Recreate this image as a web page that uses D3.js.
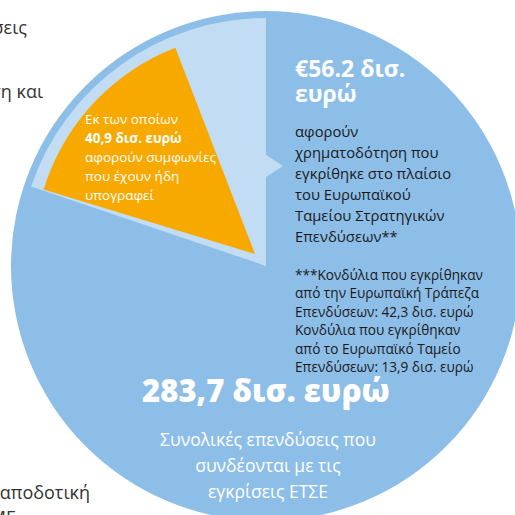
<!DOCTYPE html>
<html>
<head>
<meta charset="utf-8">
<script src="https://cdn.jsdelivr.net/npm/d3@7"></script>
<style>
  html, body { margin: 0; padding: 0; background: #fff; }
  svg { display: block; }
  text { font-family: "Open Sans", "Noto Sans", sans-serif; }
</style>
</head>
<body>
<svg id="chart" width="515" height="515"></svg>
<script>
// ---- data ----
var totalAmount = 283.7;     // total investment linked to EFSI approvals
var efsiAmount = 56.2;       // EFSI financing approved
var signedAmount = 40.9;     // of which already signed

var orangeLines = ["Εκ των οποίων", "40,9 δισ. ευρώ", "αφορούν συμφωνίες", "που έχουν ήδη", "υπογραφεί"];
var efsiTitle = ["€56.2 δισ.", "ευρώ"];
var efsiLines = ["αφορούν", "χρηματοδότηση που", "εγκρίθηκε στο πλαίσιο", "του Ευρωπαϊκού", "Ταμείου Στρατηγικών", "Επενδύσεων**"];
var noteLines = ["***Κονδύλια που εγκρίθηκαν", "από την Ευρωπαϊκή Τράπεζα", "Επενδύσεων: 42,3 δισ. ευρώ", "Κονδύλια που εγκρίθηκαν", "από το Ευρωπαϊκό Ταμείο", "Επενδύσεων: 13,9 δισ. ευρώ"];
var totalTitle = "283,7 δισ. ευρώ";
var totalLines = ["Συνολικές επενδύσεις που", "συνδέονται με τις", "εγκρίσεις ΕΤΣΕ"];
// cut-off text on the left of the page
var sideLines = [
    {text: "επενδύσεις", y: 34, x: 27},
    {text: "χρηματοδότηση και", y: 98, x: 43},
    {text: "αποδοτική", y: 499, x: 90},
    {text: "ΜΜΕ", y: 524, x: 16}
];

// ---- layout ----
var svg = d3.select("#chart");
var cx = 266, cy = 266;
var R = 255, rLight = 248, rOrange = 221;
var BLUE = "#8dbee8", LIGHT = "#c1dcf3", ORANGE = "#f7a900";

var angle = d3.scaleLinear().domain([0, totalAmount]).range([0, 2 * Math.PI]);

var g = svg.append("g").attr("transform", "translate(" + cx + "," + cy + ")");

// full circle
g.append("path")
    .attr("d", d3.arc()({innerRadius: 0, outerRadius: R, startAngle: 0, endAngle: 2 * Math.PI}))
    .attr("fill", BLUE);

// EFSI wedge
var lightStart = -angle(efsiAmount);
g.append("path")
    .attr("d", d3.arc()({innerRadius: 0, outerRadius: rLight, startAngle: lightStart, endAngle: 0}))
    .attr("fill", LIGHT);

// little pointer towards the EFSI text
g.append("path")
    .attr("d", "M0,-111 L17,-100 L0,-89 Z")
    .attr("fill", LIGHT);

// signed wedge, inset inside the EFSI wedge
var orangeStart = lightStart - 0.03;
g.append("path")
    .attr("transform", "translate(-11,-12)")
    .attr("d", d3.arc()({innerRadius: 0, outerRadius: rOrange,
        startAngle: orangeStart, endAngle: orangeStart + angle(signedAmount)}))
    .attr("fill", ORANGE);

// ---- texts ----
function block(lines, x, y0, step, opts) {
    var t = svg.append("text")
        .attr("x", x)
        .attr("fill", opts.fill)
        .style("font-size", opts.size + "px")
        .style("font-weight", opts.weight || 400)
        .attr("text-anchor", opts.anchor || "start");
    lines.forEach(function(l, i) {
        t.append("tspan").attr("x", x).attr("y", y0 + i * step).text(l)
            .style("font-weight", (opts.boldIndex === i) ? 700 : null);
    });
    return t;
}

block(orangeLines, 85, 124, 19, {fill: "#fff", size: 13.5, boldIndex: 1});
block(efsiTitle, 295, 77, 25, {fill: "#fff", size: 23, weight: 700});
block(efsiLines, 295, 137, 21, {fill: "#1a1a1a", size: 14.8});
block(noteLines, 295, 280, 18.4, {fill: "#1a1a1a", size: 13.6});

svg.append("text")
    .attr("x", cx).attr("y", 402)
    .attr("text-anchor", "middle")
    .attr("fill", "#fff")
    .style("font-size", "31px")
    .style("font-weight", 800)
    .text(totalTitle);

block(totalLines, cx + 2, 446, 26, {fill: "#fff", size: 17.5, anchor: "middle"});

sideLines.forEach(function(s) {
    svg.append("text")
        .attr("x", s.x).attr("y", s.y)
        .attr("text-anchor", "end")
        .attr("fill", "#333")
        .style("font-size", "18px")
        .text(s.text);
});
</script>
</body>
</html>
